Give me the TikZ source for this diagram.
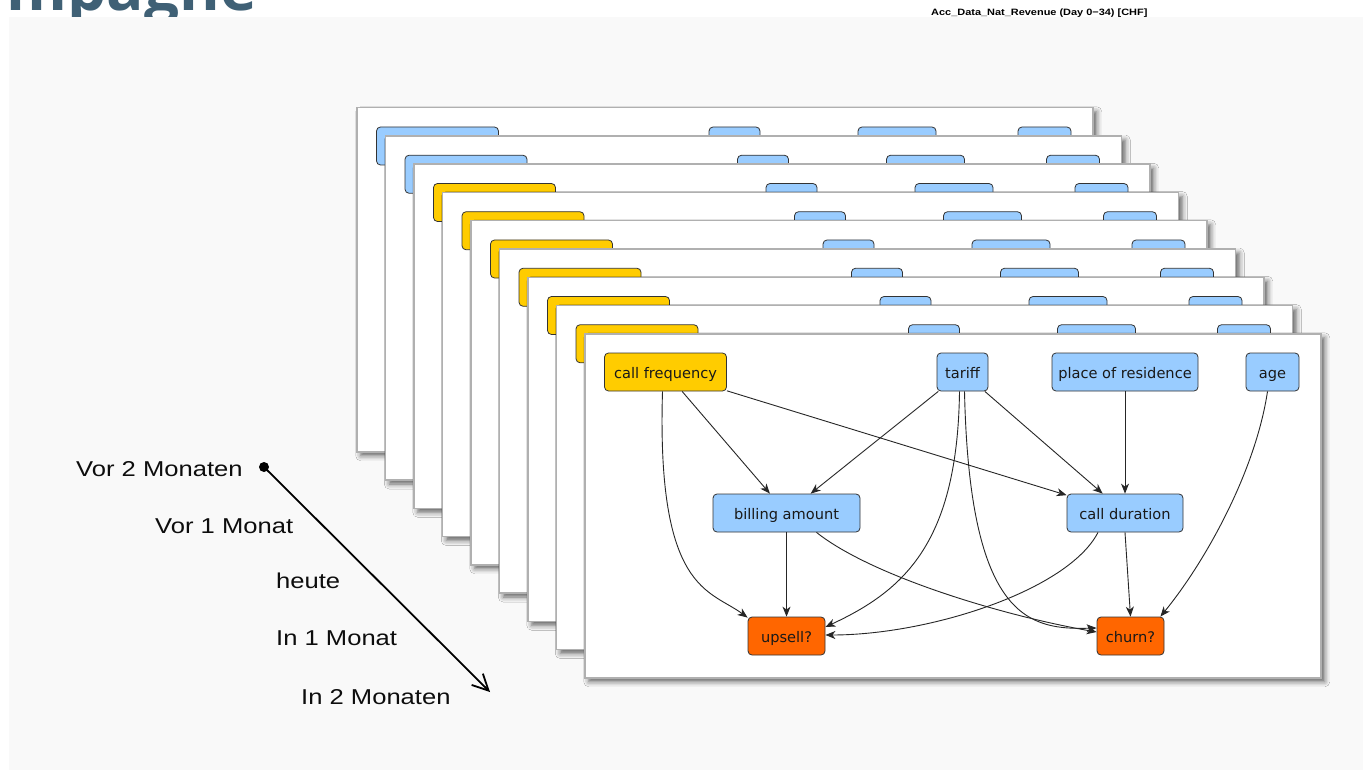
\documentclass[tikz,border=0pt]{standalone}
\usepackage{fontspec}
\setmainfont{Liberation Sans}
\newfontfamily\nodefont{DejaVu Sans}
\newfontfamily\lblfont[FakeStretch=1.19]{Liberation Sans}
\newfontfamily\titlefont{Open Sans}
\usetikzlibrary{arrows.meta,shadows.blur,calc}
\definecolor{nblue}{HTML}{99CCFF}
\definecolor{nyellow}{HTML}{FFCC00}
\definecolor{norange}{HTML}{FF6600}
\definecolor{panel}{HTML}{F9F9F9}
\definecolor{cardedge}{HTML}{B0B0B0}
\definecolor{titleblue}{HTML}{3F6075}
\definecolor{nodeedge}{HTML}{333333}
\tikzset{
  card/.style={draw=cardedge, line width=1.5pt, fill=white, anchor=north west,
    minimum width=736, minimum height=344, inner sep=0,
    blur shadow={shadow xshift=4pt, shadow yshift=-4pt, shadow blur radius=5pt, shadow opacity=60}},
  nbox/.style={draw=nodeedge, line width=0.8pt, rounded corners=4pt, minimum height=38,
    inner sep=0, text height=13pt, text depth=0pt, text=black!90,
    font=\nodefont\fontsize{14.6}{16}\selectfont},
  conn/.style={draw=black!85, line width=0.9pt, -{Stealth[length=10pt, width=8pt, inset=3pt]}},
  lbl/.style={anchor=base west, inner sep=0, text=black!95, font=\lblfont\fontsize{21.5}{24}\selectfont}
}
\begin{document}
\begin{tikzpicture}[x=1pt, y=-1pt]
\useasboundingbox (0,0) rectangle (1363,770);
% title and header (partly hidden)
\begin{scope}
\clip (0,0) rectangle (1363,770);
\node[anchor=base east, inner sep=0, text=titleblue, font=\titlefont\bfseries\fontsize{62}{62}\selectfont] (title) at (257,11) {mpagne};
\end{scope}
\node[anchor=base west, inner sep=0, font=\lblfont\bfseries\fontsize{9.2}{10}\selectfont] (acc) at (931,15.5) {Acc\_Data\_Nat\_Revenue (Day 0−34) [CHF]};
\fill[panel] (9,17) rectangle (1363,770);
% stacked back cards
\foreach \k in {0,...,7}{
  \pgfmathsetmacro{\cx}{356+28.5*\k}
  \pgfmathsetmacro{\cy}{107+28.25*\k}
  \ifnum\k<2 \def\cfcol{nblue}\else\def\cfcol{nyellow}\fi
  \begin{scope}[shift={(\cx,\cy)}]
    \node[card] (card\k) at (0,0) {};
    \node[nbox, fill=\cfcol, minimum width=122] (cf\k) at (81.5,39) {};
    \node[nbox, fill=nblue, minimum width=51] (tar\k) at (378.5,39) {};
    \node[nbox, fill=nblue, minimum width=78] (por\k) at (541,39) {};
    \node[nbox, fill=nblue, minimum width=53] (age\k) at (688.5,39) {};
  \end{scope}
}
% front card
\node[card] (card8) at (584,333) {};
\node[nbox, fill=nyellow, minimum width=122] (cf) at (665.5,372) {call frequency};
\node[nbox, fill=nblue, minimum width=51] (tar) at (962.5,372) {tariff};
\node[nbox, fill=nblue, minimum width=146] (por) at (1125,372) {place of residence};
\node[nbox, fill=nblue, minimum width=53] (age) at (1272.5,372) {age};
\node[nbox, fill=nblue, minimum width=147] (bill) at (786.5,513) {billing amount};
\node[nbox, fill=nblue, minimum width=116] (dur) at (1125,513) {call duration};
\node[nbox, fill=norange, minimum width=77] (up) at (786.5,636) {upsell?};
\node[nbox, fill=norange, minimum width=67] (ch) at (1130.5,636) {churn?};
% connectors
\draw[conn] (cf) -- (bill);
\draw[conn] (tar) -- (bill);
\draw[conn] (cf) -- (dur);
\draw[conn] (tar) -- (dur);
\draw[conn] (por) -- (dur);
\draw[conn] (bill) -- (up);
\draw[conn] (dur.south) -- (ch.north);
\draw[conn] ($(age.south)+(-5,0)$) .. controls +(-12,80) and +(45,-55) .. ($(ch.north east)+(-4,0)$);
\draw[conn] ($(cf.south)+(-3,0)$) .. controls +(-6,200) and +(-38,-28) .. ($(up.north west)+(0,1)$);
\draw[conn] ($(tar.south)+(-3,0)$) .. controls +(-2,150) and +(80,-37) .. ($(up.east)+(0,-9)$);
\draw[conn] ($(tar.south)+(2,0)$) .. controls +(5,229) and +(-67,2) .. ($(ch.west)+(0,-8)$);
\draw[conn] ($(bill.south)+(30,0)$) .. controls +(54,43) and +(-97,-17) .. ($(ch.west)+(0,-4)$);
\draw[conn] ($(dur.south)+(-27,0)$) .. controls +(-30,58) and +(104,0) .. ($(up.east)+(0,-1)$);
% time axis
\node[circle, fill=black, inner sep=0, minimum size=10] (dot) at (264,467) {};
\coordinate (tend) at (490,692);
\draw[line width=1.8pt, -{Straight Barb[length=16pt, width=16pt]}] (dot.center) -- (tend);
\node[lbl] (m2) at (76,476) {Vor 2 Monaten};
\node[lbl] (m1) at (155,533) {Vor 1 Monat};
\node[lbl] (m0) at (276,588) {heute};
\node[lbl] (p1) at (276,645) {In 1 Monat};
\node[lbl] (p2) at (301,704) {In 2 Monaten};
\end{tikzpicture}
\end{document}
